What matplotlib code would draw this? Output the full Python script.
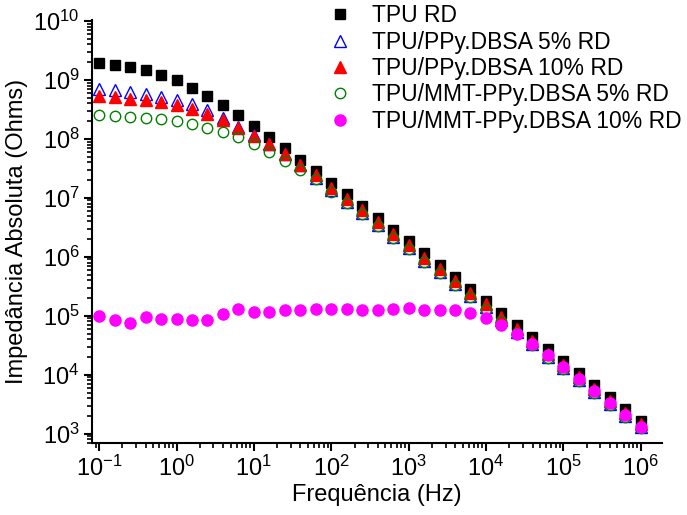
import matplotlib
matplotlib.use("Agg")
import matplotlib.pyplot as plt
from matplotlib.ticker import LogLocator, NullFormatter

plt.rcParams['font.family'] = ['Liberation Sans', 'DejaVu Sans']
plt.rcParams['mathtext.fontset'] = 'custom'
plt.rcParams['mathtext.rm'] = 'Liberation Sans'
plt.rcParams['mathtext.it'] = 'Liberation Sans:italic'
plt.rcParams['mathtext.default'] = 'regular'

# frequencies (Hz), 5 points per decade
freq = [0.1, 0.158, 0.251, 0.398, 0.631,
        1.0, 1.58, 2.51, 3.98, 6.31,
        10.0, 15.8, 25.1, 39.8, 63.1,
        100.0, 158.0, 251.0, 398.0, 631.0,
        1.0e3, 1.58e3, 2.51e3, 3.98e3, 6.31e3,
        1.0e4, 1.58e4, 2.51e4, 3.98e4, 6.31e4,
        1.0e5, 1.58e5, 2.51e5, 3.98e5, 6.31e5,
        1.0e6]

tpu = [1.91e9, 1.79e9, 1.62e9, 1.47e9, 1.20e9,
       9.95e8, 7.40e8, 5.33e8, 3.71e8, 2.54e8,
       1.65e8, 1.09e8, 6.90e7, 4.37e7, 2.84e7,
       1.80e7, 1.14e7, 7.23e6, 4.59e6, 2.90e6,
       1.84e6, 1.17e6, 7.40e5, 4.57e5, 2.87e5,
       1.75e5, 1.10e5, 6.87e4, 4.32e4, 2.74e4,
       1.69e4, 1.06e4, 6.65e3, 4.18e3, 2.61e3,
       1.62e3]

ppy5 = [6.92e8, 6.75e8, 6.24e8, 5.70e8, 5.20e8,
        4.56e8, 3.85e8, 3.08e8, 2.29e8, 1.61e8,
        1.15e8, 8.13e7, 5.50e7, 3.55e7, 2.15e7,
        1.33e7, 8.41e6, 5.47e6, 3.47e6, 2.20e6,
        1.39e6, 8.65e5, 5.53e5, 3.49e5, 2.17e5,
        1.39e5, 8.45e4, 5.31e4, 3.32e4, 2.03e4,
        1.30e4, 8.18e3, 5.14e3, 3.21e3, 2.02e3,
        1.30e3]

ppy10 = [5.33e8, 5.13e8, 4.82e8, 4.51e8, 4.13e8,
         3.71e8, 3.17e8, 2.61e8, 2.08e8, 1.55e8,
         1.12e8, 8.07e7, 5.46e7, 3.59e7, 2.41e7,
         1.49e7, 9.44e6, 6.14e6, 3.89e6, 2.47e6,
         1.56e6, 9.70e5, 6.21e5, 3.92e5, 2.43e5,
         1.56e5, 9.48e4, 5.96e4, 3.72e4, 2.28e4,
         1.46e4, 9.18e3, 5.77e3, 3.61e3, 2.26e3,
         1.46e3]

mmt5 = [2.58e8, 2.44e8, 2.38e8, 2.29e8, 2.14e8,
        2.00e8, 1.76e8, 1.55e8, 1.30e8, 1.09e8,
        8.07e7, 5.97e7, 4.20e7, 2.92e7, 2.05e7,
        1.27e7, 8.04e6, 5.22e6, 3.31e6, 2.10e6,
        1.33e6, 8.26e5, 5.28e5, 3.33e5, 2.07e5,
        1.32e5, 8.07e4, 5.07e4, 3.17e4, 1.94e4,
        1.24e4, 7.82e3, 4.91e3, 3.07e3, 1.93e3,
        1.24e3]

mmt10 = [1.01e5, 8.39e4, 7.57e4, 9.57e4, 8.85e4,
         8.85e4, 8.61e4, 8.39e4, 1.08e5, 1.31e5,
         1.15e5, 1.15e5, 1.24e5, 1.27e5, 1.31e5,
         1.31e5, 1.31e5, 1.27e5, 1.27e5, 1.31e5,
         1.33e5, 1.23e5, 1.27e5, 1.27e5, 1.11e5,
         9.20e4, 7.06e4, 4.99e4, 3.26e4, 2.13e4,
         1.35e4, 8.36e3, 5.37e3, 3.37e3, 2.06e3,
         1.29e3]

labels = ["TPU RD", "TPU/PPy.DBSA 5% RD", "TPU/PPy.DBSA 10% RD",
          "TPU/MMT-PPy.DBSA 5% RD", "TPU/MMT-PPy.DBSA 10% RD"]

fig = plt.figure(figsize=(6.87, 5.15), dpi=100)
ax = fig.add_axes([0.134, 0.140, 0.830, 0.822])

ax.plot(freq, tpu, ls='none', marker='s', ms=7, color='black', label=labels[0])
ax.plot(freq, ppy5, ls='none', marker='^', ms=8, mfc='none', mec='blue', mew=1.0, label=labels[1])
ax.plot(freq, ppy10, ls='none', marker='^', ms=8, color='red', label=labels[2])
ax.plot(freq, mmt5, ls='none', marker='o', ms=7.5, mfc='none', mec='green', mew=1.0, label=labels[3])
ax.plot(freq, mmt10, ls='none', marker='o', ms=8, color='magenta', label=labels[4])

ax.set_xscale('log')
ax.set_yscale('log')
ax.set_xlim(0.081, 1.9e6)
ax.set_ylim(7.0e2, 1.05e10)

ax.xaxis.set_major_locator(LogLocator(base=10, numticks=20))
ax.yaxis.set_major_locator(LogLocator(base=10, numticks=20))
ax.xaxis.set_minor_locator(LogLocator(base=10, subs=range(2, 10), numticks=20))
ax.yaxis.set_minor_locator(LogLocator(base=10, subs=range(2, 10), numticks=20))
ax.xaxis.set_minor_formatter(NullFormatter())
ax.yaxis.set_minor_formatter(NullFormatter())

for s in ['top', 'right']:
    ax.spines[s].set_visible(False)
for s in ['left', 'bottom']:
    ax.spines[s].set_linewidth(1.5)

ax.tick_params(which='major', direction='out', length=6, width=1.5, labelsize=17, pad=3)
ax.tick_params(which='minor', direction='out', length=3.5, width=1.2)

ax.set_xlabel("Frequência (Hz)", fontsize=17)
ax.set_ylabel("Impedância Absoluta (Ohms)", fontsize=17)
ax.xaxis.set_label_coords(0.5, -0.097)
ax.yaxis.set_label_coords(-0.112, 0.5)

fig.legend(loc='upper left', bbox_to_anchor=(0.475, 0.992), frameon=False,
           fontsize=16.5, labelspacing=0.15, handletextpad=0.8, borderaxespad=0.0,
           borderpad=0.0, handlelength=1.2)

fig.savefig("out.png", dpi=100)
